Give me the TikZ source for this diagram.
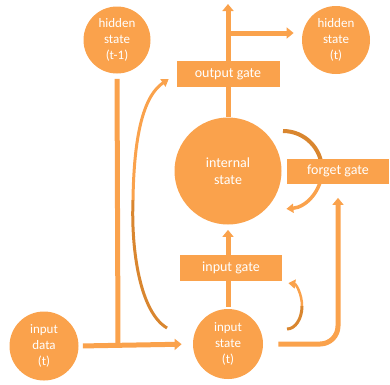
\documentclass[tikz,border=0pt]{standalone}
\usepackage{fontspec}
\setmainfont{Carlito}
\usetikzlibrary{arrows.meta}

\definecolor{lstmorange}{RGB}{250,162,76}
\definecolor{lstmdark}{RGB}{217,134,47}

\tikzset{every picture/.style={line width=0.75pt}}
\tikzset{
  statenode/.style={circle, fill=lstmorange, text=white, inner sep=0pt, align=center, font=\fontsize{13}{16}\selectfont},
  gatenode/.style={rectangle, fill=lstmorange, text=white, inner sep=0pt, minimum width=103pt, minimum height=26pt, font=\fontsize{14}{16}\selectfont},
  flowline/.style={draw=lstmorange, line width=5pt},
  flow/.style={flowline, -{Triangle[width=11pt,length=7pt]}},
  loopline/.style={line width=3.5pt, -{Triangle[width=9pt,length=7pt]}}
}

\begin{document}
\begin{tikzpicture}[x=1pt,y=1pt,yscale=-1]

\useasboundingbox (0,0) rectangle (390,384);

\coordinate (top) at (228,4);
\coordinate (branch) at (228,33);
\coordinate (join) at (118,344);
\coordinate (curvefoot) at (167,328);
\coordinate (curvemid) at (133,200);
\coordinate (loopstart) at (283,131);
\coordinate (dotstart) at (287,329);

% forget loop, under the gate
\draw [line width=4pt, lstmdark] (loopstart) arc [start angle=-90, end angle=0, radius=39];
\draw [loopline, lstmorange] (loopstart) ++(39,39) arc [start angle=0, end angle=85, radius=39];

\draw (117,40) node [statenode, minimum size=67pt] (hprev) {hidden\\state\\(t-1)};
\draw (336,40) node [statenode, minimum size=68pt] (hcur) {hidden\\state\\(t)};
\draw (228,171) node [statenode, minimum size=107pt, font=\fontsize{14}{17}\selectfont] (cell) {internal\\state};
\draw (44,346) node [statenode, minimum size=69pt] (xin) {input\\data\\(t)};
\draw (228,344) node [statenode, minimum size=70pt] (ist) {input\\state\\(t)};

\draw (228,74) node [gatenode] (og) {output gate};
\draw (231,268) node [gatenode, minimum width=102pt] (ig) {input gate};
\draw (338,171) node [gatenode, minimum width=102pt, minimum height=25pt] (fg) {forget gate};

% input side
\draw [flowline, shorten <=5pt] (hprev.south) -- (join);
\draw [flow, shorten <=4pt, shorten >=11pt] (xin.east) -- (ist.west);
\draw [flowline, shorten <=2pt] (ist.north) -- (ist.north |- ig.south);
\draw [flow, shorten >=5pt] (ig.north -| ist.north) -- (cell.south);
\draw [flow, rounded corners=18pt, shorten <=15pt, shorten >=14pt] (ist.east) -| (fg.south);

% output side
\draw [flowline] (cell.north) -- (og.south);
\draw [flow] (og.north) -- (top);
\draw [flow, shorten >=8pt] (branch) -- (branch -| hcur.west);

% recurrent arrows
\draw [line width=3pt, lstmdark] (curvefoot) .. controls (140,312) and (131,250) .. (curvemid);
\draw [loopline, line width=3pt, lstmorange, shorten >=9pt] (curvemid) .. controls (134,130) and (145,95) .. (og.west);
\draw [line width=3pt, lstmdark] (dotstart) arc [start angle=90, end angle=0, x radius=15, y radius=23];
\draw [loopline, line width=2.5pt, lstmorange] (dotstart) ++(15,-23) arc [start angle=0, end angle=-85, x radius=15, y radius=23];

\end{tikzpicture}
\end{document}
